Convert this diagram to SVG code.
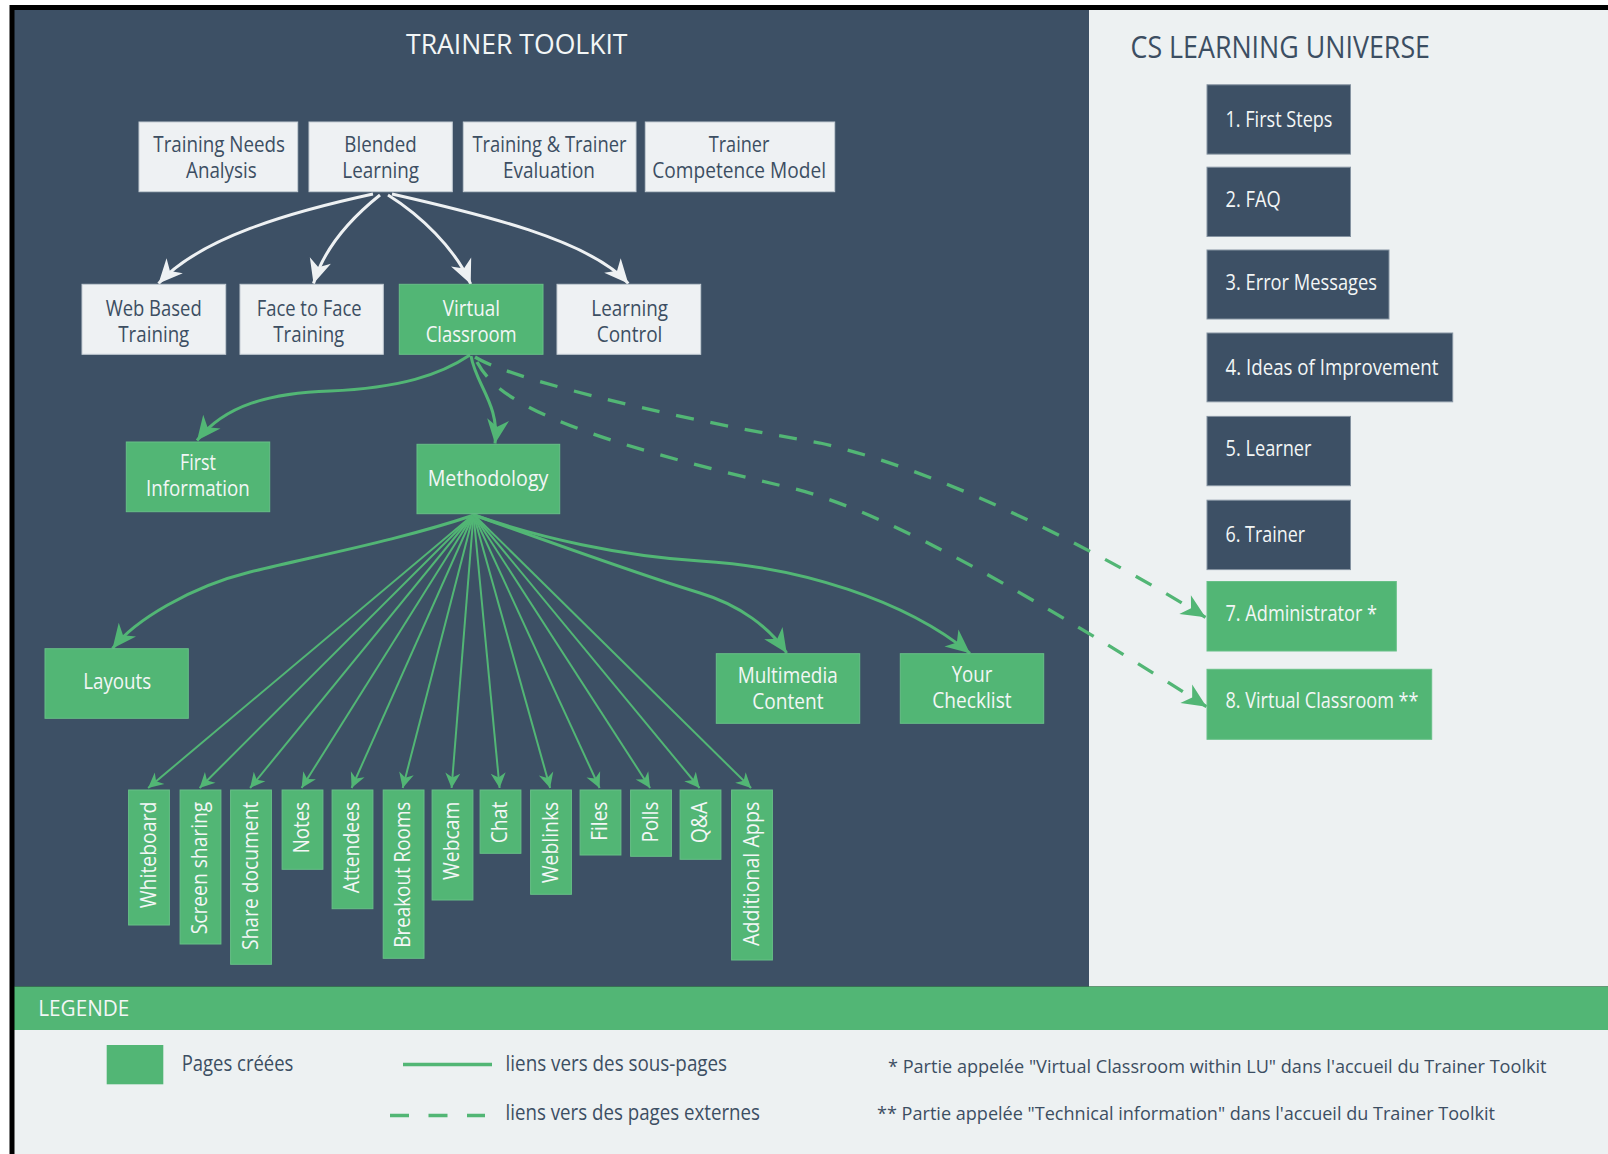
<svg xmlns="http://www.w3.org/2000/svg" width="1608" height="1154" viewBox="0 0 1608 1154">
<style>
.t{font-family:"Open Sans","Noto Sans","DejaVu Sans",sans-serif;font-size:21px}
.dk{fill:#3C4E62}
.wt{fill:#F3F6F6}
.lbox{fill:#EEF1F3;stroke:#C3CCD4;stroke-width:1}
.gbox{fill:#52B675;stroke:#67C087;stroke-width:1}
.dbox{fill:#3D5065;stroke:#8593A1;stroke-width:1}
.cw{fill:none;stroke:#EEF1F3;stroke-width:3;marker-end:url(#aw)}
.cg{fill:none;stroke:#52B675;stroke-width:3;marker-end:url(#ag)}
.cf{fill:none;stroke:#52B675;stroke-width:2;marker-end:url(#as)}
.cd{fill:none;stroke:#52B675;stroke-width:3.3;stroke-dasharray:18 17;marker-end:url(#ag)}
</style>
<defs>
<marker id="aw" markerUnits="userSpaceOnUse" orient="auto" overflow="visible" markerWidth="1" markerHeight="1" refX="0" refY="0"><path d="M0,0 L-24,-11 L-17,0 L-24,11 Z" fill="#EEF1F3"/></marker>
<marker id="ag" markerUnits="userSpaceOnUse" orient="auto" overflow="visible" markerWidth="1" markerHeight="1" refX="0" refY="0"><path d="M0,0 L-24,-11 L-17,0 L-24,11 Z" fill="#52B675"/></marker>
<marker id="as" markerUnits="userSpaceOnUse" orient="auto" overflow="visible" markerWidth="1" markerHeight="1" refX="0" refY="0"><path d="M0,0 L-15,-7.5 L-10.5,0 L-15,7.5 Z" fill="#52B675"/></marker>
</defs>

<!-- frame and panels -->
<rect x="0" y="0" width="1608" height="1154" fill="#FFFFFF"/>
<rect x="9.5" y="5" width="1598.5" height="1149" fill="#000000"/>
<rect x="14.5" y="10" width="1074.5" height="976.5" fill="#3D5065"/>
<rect x="1089" y="10" width="519" height="976.5" fill="#EDF1F2"/>
<rect x="14.5" y="986.5" width="1593.5" height="43.5" fill="#52B675"/>
<rect x="14.5" y="1030" width="1593.5" height="124" fill="#EDF1F2"/>

<text class="t wt" x="406" y="53.5" style="font-size:28px" textLength="221.5" lengthAdjust="spacingAndGlyphs">TRAINER TOOLKIT</text>
<text class="t dk" x="1130.5" y="58" style="font-size:31px" textLength="299.5" lengthAdjust="spacingAndGlyphs">CS LEARNING UNIVERSE</text>

<!-- connectors -->
<g id="connectors">
<path class="cw" d="M373,194 C290,212 200,238 158.5,283.5"/>
<path class="cw" d="M380,195 C355,215 325,245 313.5,283.5"/>
<path class="cw" d="M388,195 C420,215 455,248 470.7,284"/>
<path class="cw" d="M392,194 C480,214 590,240 628.3,283.5"/>
<path class="cg" d="M470,355 C440,375 400,388 330,391 C270,393 225,405 197,440.5"/>
<path class="cg" d="M471,356 C476,385 500,405 495,443.5"/>
<path class="cd" d="M475,357 C505,376 640,412 820,443 C970,477.5 1145,579.8 1205.5,617.3"/>
<path class="cd" d="M477,362 C495,395 540,430 787,487 C870,506 1000,575 1206.5,706.7"/>
<path class="cg" d="M474,515 C400,540 320,555 250,572 C190,587 135,620 112.5,648.5"/>
<path class="cg" d="M474,515 C530,535 640,575 700,593 C740,605 770,628 786.7,653"/>
<path class="cg" d="M474,515 C540,538 620,556 700,561 C800,567 905,600 970,653.3"/>
<path class="cf" d="M473.5,514.5 L148.1,788"/>
<path class="cf" d="M473.5,514.5 L199.6,788"/>
<path class="cf" d="M473.5,514.5 L250.1,788"/>
<path class="cf" d="M473.5,514.5 L301.6,788"/>
<path class="cf" d="M473.5,514.5 L351.6,788"/>
<path class="cf" d="M473.5,514.5 L402.7,788"/>
<path class="cf" d="M473.5,514.5 L451.6,788"/>
<path class="cf" d="M473.5,514.5 L499.6,788"/>
<path class="cf" d="M473.5,514.5 L550.1,788"/>
<path class="cf" d="M473.5,514.5 L599.6,788"/>
<path class="cf" d="M473.5,514.5 L650.1,788"/>
<path class="cf" d="M473.5,514.5 L699.6,788"/>
<path class="cf" d="M473.5,514.5 L751.1,788"/>
</g>

<!-- top row -->
<g id="n-tna"><rect class="lbox" x="139" y="122" width="158.7" height="69.7"/>
<text class="t dk" x="153.3" y="151.7" textLength="131.7" lengthAdjust="spacingAndGlyphs">Training Needs</text>
<text class="t dk" x="186" y="177.7" textLength="70.7" lengthAdjust="spacingAndGlyphs">Analysis</text></g>
<g id="n-bl"><rect class="lbox" x="309" y="122" width="143.3" height="69.7"/>
<text class="t dk" x="344.3" y="151.7" textLength="72.4" lengthAdjust="spacingAndGlyphs">Blended</text>
<text class="t dk" x="342.3" y="177.7" textLength="76.7" lengthAdjust="spacingAndGlyphs">Learning</text></g>
<g id="n-tte"><rect class="lbox" x="463.3" y="122" width="172.7" height="69.7"/>
<text class="t dk" x="472.5" y="151.7" textLength="154" lengthAdjust="spacingAndGlyphs">Training &amp; Trainer</text>
<text class="t dk" x="503" y="177.7" textLength="92" lengthAdjust="spacingAndGlyphs">Evaluation</text></g>
<g id="n-tcm"><rect class="lbox" x="645.3" y="122" width="189.4" height="69.7"/>
<text class="t dk" x="708.7" y="151.7" textLength="60.7" lengthAdjust="spacingAndGlyphs">Trainer</text>
<text class="t dk" x="652.3" y="177.7" textLength="173.7" lengthAdjust="spacingAndGlyphs">Competence Model</text></g>

<!-- second row -->
<g id="n-wbt"><rect class="lbox" x="82" y="284.3" width="143.7" height="70"/>
<text class="t dk" x="105.7" y="316" textLength="96" lengthAdjust="spacingAndGlyphs">Web Based</text>
<text class="t dk" x="118.3" y="342" textLength="71" lengthAdjust="spacingAndGlyphs">Training</text></g>
<g id="n-f2f"><rect class="lbox" x="240" y="284.3" width="143.3" height="70"/>
<text class="t dk" x="256.7" y="316" textLength="105" lengthAdjust="spacingAndGlyphs">Face to Face</text>
<text class="t dk" x="273.3" y="342" textLength="71" lengthAdjust="spacingAndGlyphs">Training</text></g>
<g id="n-vc"><rect class="gbox" x="399.3" y="284.3" width="143.7" height="70"/>
<text class="t wt" x="442.7" y="316" textLength="57.3" lengthAdjust="spacingAndGlyphs">Virtual</text>
<text class="t wt" x="425.7" y="342" textLength="91" lengthAdjust="spacingAndGlyphs">Classroom</text></g>
<g id="n-lc"><rect class="lbox" x="557" y="284.3" width="143.7" height="70"/>
<text class="t dk" x="591.3" y="316" textLength="76.7" lengthAdjust="spacingAndGlyphs">Learning</text>
<text class="t dk" x="596.7" y="342" textLength="65.7" lengthAdjust="spacingAndGlyphs">Control</text></g>

<!-- third row -->
<g id="n-fi"><rect class="gbox" x="126.3" y="442" width="143.4" height="69.7"/>
<text class="t wt" x="180" y="470" textLength="36" lengthAdjust="spacingAndGlyphs">First</text>
<text class="t wt" x="146" y="496" textLength="103.7" lengthAdjust="spacingAndGlyphs">Information</text></g>
<g id="n-meth"><rect class="gbox" x="417" y="444.3" width="142.7" height="69.4"/>
<text class="t wt" x="427.7" y="486" textLength="120.7" lengthAdjust="spacingAndGlyphs">Methodology</text></g>

<!-- fourth row -->
<g id="n-lay"><rect class="gbox" x="45" y="648.7" width="143.3" height="69.6"/>
<text class="t wt" x="83.2" y="689" textLength="68" lengthAdjust="spacingAndGlyphs">Layouts</text></g>
<g id="n-mm"><rect class="gbox" x="716.3" y="653.7" width="143.4" height="69.6"/>
<text class="t wt" x="737.7" y="683.3" textLength="100" lengthAdjust="spacingAndGlyphs">Multimedia</text>
<text class="t wt" x="752.3" y="709" textLength="71.3" lengthAdjust="spacingAndGlyphs">Content</text></g>
<g id="n-yc"><rect class="gbox" x="900.3" y="653.7" width="143.4" height="69.6"/>
<text class="t wt" x="951.7" y="682.3" textLength="40.7" lengthAdjust="spacingAndGlyphs">Your</text>
<text class="t wt" x="932.3" y="707.7" textLength="79.3" lengthAdjust="spacingAndGlyphs">Checklist</text></g>

<!-- vertical tools -->
<g id="n-whiteboard"><rect class="gbox" x="128.6" y="790" width="40.8" height="135"/>
<text class="t wt" transform="translate(155.6,908.3) rotate(-90)" textLength="106.6" lengthAdjust="spacingAndGlyphs">Whiteboard</text></g>
<g id="n-screen"><rect class="gbox" x="180.1" y="790" width="40.8" height="154"/>
<text class="t wt" transform="translate(207.1,934.3) rotate(-90)" textLength="132.6" lengthAdjust="spacingAndGlyphs">Screen sharing</text></g>
<g id="n-share"><rect class="gbox" x="230.6" y="790" width="40.8" height="174.3"/>
<text class="t wt" transform="translate(257.6,950) rotate(-90)" textLength="148.3" lengthAdjust="spacingAndGlyphs">Share document</text></g>
<g id="n-notes"><rect class="gbox" x="282.1" y="790" width="40.8" height="79.3"/>
<text class="t wt" transform="translate(309.1,853.3) rotate(-90)" textLength="51.6" lengthAdjust="spacingAndGlyphs">Notes</text></g>
<g id="n-attendees"><rect class="gbox" x="332.1" y="790" width="40.8" height="118.7"/>
<text class="t wt" transform="translate(359.1,893.3) rotate(-90)" textLength="91.6" lengthAdjust="spacingAndGlyphs">Attendees</text></g>
<g id="n-breakout"><rect class="gbox" x="383.2" y="790" width="40.8" height="168.3"/>
<text class="t wt" transform="translate(410.2,947.7) rotate(-90)" textLength="146" lengthAdjust="spacingAndGlyphs">Breakout Rooms</text></g>
<g id="n-webcam"><rect class="gbox" x="432.1" y="790" width="40.8" height="110"/>
<text class="t wt" transform="translate(459.1,880) rotate(-90)" textLength="78.3" lengthAdjust="spacingAndGlyphs">Webcam</text></g>
<g id="n-chat"><rect class="gbox" x="480.1" y="790" width="40.8" height="63.3"/>
<text class="t wt" transform="translate(507.1,843.3) rotate(-90)" textLength="41.6" lengthAdjust="spacingAndGlyphs">Chat</text></g>
<g id="n-weblinks"><rect class="gbox" x="530.6" y="790" width="40.8" height="104.3"/>
<text class="t wt" transform="translate(557.6,883.3) rotate(-90)" textLength="81.6" lengthAdjust="spacingAndGlyphs">Weblinks</text></g>
<g id="n-files"><rect class="gbox" x="580.1" y="790" width="40.8" height="65"/>
<text class="t wt" transform="translate(607.1,840.7) rotate(-90)" textLength="39" lengthAdjust="spacingAndGlyphs">Files</text></g>
<g id="n-polls"><rect class="gbox" x="630.6" y="790" width="40.8" height="66.3"/>
<text class="t wt" transform="translate(657.6,842.3) rotate(-90)" textLength="40.6" lengthAdjust="spacingAndGlyphs">Polls</text></g>
<g id="n-qa"><rect class="gbox" x="680.1" y="790" width="40.8" height="69.3"/>
<text class="t wt" transform="translate(707.1,843.3) rotate(-90)" textLength="41.6" lengthAdjust="spacingAndGlyphs">Q&amp;A</text></g>
<g id="n-apps"><rect class="gbox" x="731.6" y="790" width="40.8" height="170"/>
<text class="t wt" transform="translate(758.6,946) rotate(-90)" textLength="144.3" lengthAdjust="spacingAndGlyphs">Additional Apps</text></g>

<!-- CS Learning Universe -->
<g id="n-lu1"><rect class="dbox" x="1207" y="84.8" width="143.5" height="69.3"/>
<text class="t wt" x="1225.5" y="127" textLength="107" lengthAdjust="spacingAndGlyphs">1. First Steps</text></g>
<g id="n-lu2"><rect class="dbox" x="1207" y="167.2" width="143.5" height="69.3"/>
<text class="t wt" x="1225.5" y="207" textLength="55.2" lengthAdjust="spacingAndGlyphs">2. FAQ</text></g>
<g id="n-lu3"><rect class="dbox" x="1207" y="250" width="182" height="69"/>
<text class="t wt" x="1225.5" y="290" textLength="151.5" lengthAdjust="spacingAndGlyphs">3. Error Messages</text></g>
<g id="n-lu4"><rect class="dbox" x="1207" y="333" width="245.7" height="68.8"/>
<text class="t wt" x="1225.5" y="375" textLength="213" lengthAdjust="spacingAndGlyphs">4. Ideas of Improvement</text></g>
<g id="n-lu5"><rect class="dbox" x="1207" y="416.4" width="143.5" height="69.3"/>
<text class="t wt" x="1225.5" y="456" textLength="86" lengthAdjust="spacingAndGlyphs">5. Learner</text></g>
<g id="n-lu6"><rect class="dbox" x="1207" y="500.2" width="143.5" height="69.4"/>
<text class="t wt" x="1225.5" y="541.5" textLength="79.7" lengthAdjust="spacingAndGlyphs">6. Trainer</text></g>
<g id="n-lu7"><rect class="gbox" x="1207" y="581.5" width="189.3" height="69.5"/>
<text class="t wt" x="1225.5" y="621" textLength="151.5" lengthAdjust="spacingAndGlyphs">7. Administrator *</text></g>
<g id="n-lu8"><rect class="gbox" x="1207" y="669.3" width="224.7" height="70"/>
<text class="t wt" x="1225.5" y="708.3" textLength="193" lengthAdjust="spacingAndGlyphs">8. Virtual Classroom **</text></g>

<!-- legend -->
<g id="legend">
<text class="t wt" x="38.3" y="1016" style="font-size:22px" textLength="91" lengthAdjust="spacingAndGlyphs">LEGENDE</text>
<rect x="106.7" y="1045" width="56.6" height="39.3" fill="#52B675"/>
<text class="t dk" x="181.7" y="1071" textLength="111.7" lengthAdjust="spacingAndGlyphs">Pages créées</text>
<line x1="403" y1="1064.5" x2="492" y2="1064.5" stroke="#52B675" stroke-width="3.5"/>
<text class="t dk" x="505.6" y="1071" textLength="221.5" lengthAdjust="spacingAndGlyphs">liens vers des sous-pages</text>
<line x1="390" y1="1115.5" x2="485" y2="1115.5" stroke="#52B675" stroke-width="3.5" stroke-dasharray="19 19.5"/>
<text class="t dk" x="505.6" y="1120" textLength="254.4" lengthAdjust="spacingAndGlyphs">liens vers des pages externes</text>
<text class="t dk" x="888" y="1073" style="font-size:18.5px" textLength="658.5" lengthAdjust="spacingAndGlyphs">* Partie appelée "Virtual Classroom within LU" dans l'accueil du Trainer Toolkit</text>
<text class="t dk" x="877" y="1120" style="font-size:18.5px" textLength="618" lengthAdjust="spacingAndGlyphs">** Partie appelée "Technical information" dans l'accueil du Trainer Toolkit</text>
</g>
</svg>
